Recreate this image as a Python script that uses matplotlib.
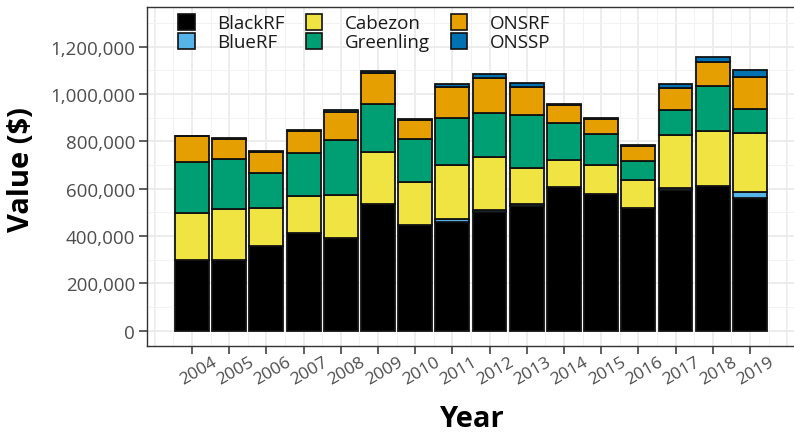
import matplotlib
matplotlib.use("Agg")
import matplotlib.pyplot as plt
from matplotlib.patches import Patch
from matplotlib.ticker import MultipleLocator, FuncFormatter
import matplotlib.transforms as mtransforms
import numpy as np

years = ["2004", "2005", "2006", "2007", "2008", "2009", "2010", "2011",
         "2012", "2013", "2014", "2015", "2016", "2017", "2018", "2019"]
species = ["BlackRF", "BlueRF", "Cabezon", "Greenling", "ONSRF", "ONSSP"]
colors = ["#000000", "#56B4E9", "#F0E442", "#009E73", "#E69F00", "#0072B2"]

black_rf = [299000, 299000, 358000, 411000, 392000, 537000, 448000, 460000,
            500000, 528000, 607000, 579000, 517000, 593000, 613000, 561000]
blue_rf = [0, 0, 0, 0, 0, 0, 0, 12000, 11000, 9000, 0, 0, 0, 11000, 0, 24000]
cabezon = [200000, 215000, 162000, 159000, 183000, 217000, 180000, 228000,
           222000, 150000, 115000, 121000, 120000, 223000, 231000, 250000]
greenling = [212000, 210000, 148000, 179000, 231000, 202000, 182000, 200000,
             189000, 224000, 155000, 130000, 81000, 105000, 191000, 100000]
onsrf = [110000, 86000, 86000, 96000, 119000, 134000, 82000, 128000,
         147000, 117000, 76000, 64000, 61000, 92000, 101000, 136000]
onssp = [2000, 3000, 4000, 3000, 6000, 6000, 3000, 13000,
         15000, 19000, 5000, 4000, 7000, 18000, 19000, 29000]

series = [black_rf, blue_rf, cabezon, greenling, onsrf, onssp]

W, H = 794, 435
fig = plt.figure(figsize=(W / 100, H / 100), dpi=100)
ax = fig.add_axes([147 / W, 88 / H, 652 / W, 339 / H])

x = np.arange(len(years))
bottom = np.zeros(len(years))
for vals, col in zip(series, colors):
    v = np.array(vals, dtype=float)
    ax.bar(x, v, bottom=bottom, width=0.91, color=col, edgecolor="#111111",
           linewidth=1.3, zorder=3)
    bottom += v

ax.set_xlim(-1.21, 15 + 1.32)
ax.set_ylim(-64600, 1368000)

ax.set_xticks(x)
ax.set_xticklabels(years)
ax.xaxis.set_minor_locator(MultipleLocator(0.5))
ax.yaxis.set_major_locator(MultipleLocator(200000))
ax.yaxis.set_minor_locator(MultipleLocator(100000))
ax.yaxis.set_major_formatter(FuncFormatter(lambda v, p: f"{int(v):,}"))

ax.grid(which="major", color="#EBEBEB", linewidth=1.3, zorder=0)
ax.grid(which="minor", color="#F2F2F2", linewidth=0.7, zorder=0)
for xv in (-1, len(years)):
    ax.axvline(xv, color="#EBEBEB", linewidth=1.3, zorder=0.5)
ax.set_axisbelow(True)

for s in ax.spines.values():
    s.set_color("#333333")
    s.set_linewidth(1.0)

ax.tick_params(axis="both", which="major", length=5.5, width=1.1, color="#333333",
               labelcolor="#4D4D4D")
ax.tick_params(axis="both", which="minor", length=0)
ax.tick_params(axis="y", labelsize=13.5, pad=3)
ax.tick_params(axis="x", labelsize=12.6, pad=0)

for lab in ax.get_yticklabels():
    lab.set_fontfamily("Open Sans")
offset = mtransforms.ScaledTranslation(6 / 100, 0, fig.dpi_scale_trans)
for lab in ax.get_xticklabels():
    lab.set_fontfamily("Open Sans")
    lab.set_rotation(30)
    lab.set_ha("center")
    lab.set_va("top")
    lab.set_transform(lab.get_transform() + offset)

fig.text(21.5 / W, 1 - 170 / H, "Value ($)", rotation=90, ha="center", va="center",
         fontsize=21, fontweight="bold", family="Open Sans", color="black")
fig.text(471 / W, 1 - 420 / H, "Year", ha="center", va="center",
         fontsize=21, fontweight="bold", family="Open Sans", color="black")

handles = [Patch(facecolor=c, edgecolor="#111111", linewidth=1.2) for c in colors]
leg = ax.legend(handles, species, ncol=3, loc="upper left",
                bbox_to_anchor=((178 - 147) / 652, 1 - (15 - 8) / 339),
                bbox_transform=ax.transAxes, frameon=False, borderpad=0,
                borderaxespad=0,
                handlelength=0.9, handleheight=0.9, handletextpad=1.2,
                columnspacing=1.1, labelspacing=0.05,
                prop={"family": "Open Sans", "size": 13.5})
for t in leg.get_texts():
    t.set_color("#1A1A1A")
leg.set_zorder(5)

fig.savefig("out.png", dpi=100)
